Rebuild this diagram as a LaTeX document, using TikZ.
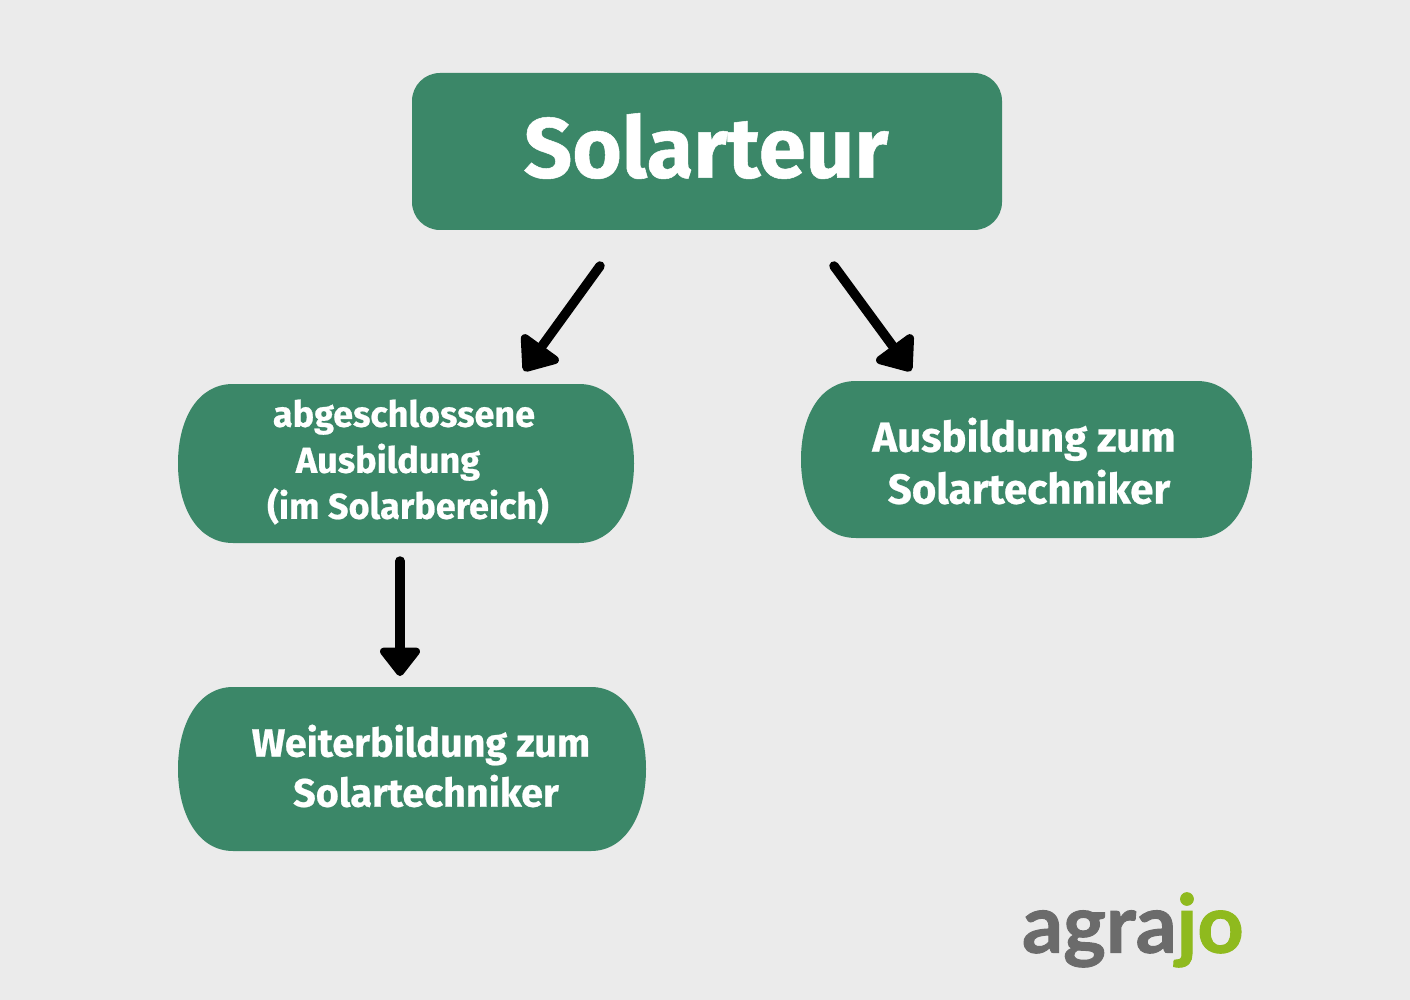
\documentclass[tikz,border=0pt]{standalone}
\usepackage{fontspec}
\setmainfont{Fira Sans}[BoldFeatures={FakeBold=0.6}]
\newfontfamily\logofont{Lato}[BoldFeatures={FakeBold=1.2}]
\usetikzlibrary{arrows.meta}
\definecolor{bggray}{HTML}{EBEBEB}
\definecolor{boxgreen}{HTML}{3B8768}
\definecolor{logogray}{HTML}{6B6B6B}
\definecolor{logogreen}{HTML}{8FBA1E}
\newcommand{\pillbox}[4]{% left, top, right, bottom
  \fill[boxgreen] (#1+55,#2) -- (#3-55,#2)
    .. controls (#3-20,#2) and (#3,#2/2+#4/2-45) .. (#3,#2/2+#4/2)
    .. controls (#3,#2/2+#4/2+45) and (#3-20,#4) .. (#3-55,#4)
    -- (#1+55,#4)
    .. controls (#1+20,#4) and (#1,#2/2+#4/2+45) .. (#1,#2/2+#4/2)
    .. controls (#1,#2/2+#4/2-45) and (#1+20,#2) .. (#1+55,#2) -- cycle;}
\tikzset{
  x=1pt,y=-1pt,
  boxtext/.style={text=white,font=\bfseries,align=center,inner sep=0pt},
  arrow/.style={line width=9.5pt,line cap=round,-{Triangle[length=31pt,width=46pt,line width=8pt,round]}},
  bigarrow/.style={line width=9.5pt,line cap=round,-{Triangle[length=34pt,width=52pt,line width=9pt,round]}}
}
\begin{document}
\begin{tikzpicture}
  \useasboundingbox[fill=bggray] (0,0) rectangle (1410,1000);
  % boxes
  \fill[boxgreen,rounded corners=28pt] (412,73) rectangle (1002,230);
  \node[boxtext,font=\fontsize{85}{90}\selectfont\bfseries] (solar) at (706,146) {Solarteur};
  \pillbox{178}{384}{634}{543}
  \node[boxtext,font=\fontsize{36}{46}\selectfont\bfseries] (abschluss) at (408,462) {\hspace*{-8pt}abgeschlossene\\\hspace*{-40pt}Ausbildung\\(im Solarbereich)};
  \pillbox{801}{381}{1252}{538}
  \node[boxtext,font=\fontsize{42}{52}\selectfont\bfseries] (ausbildung) at (1024,461) {Ausbildung zum\\\hspace*{10pt}Solartechniker};
  \pillbox{178}{687}{646}{851}
  \node[boxtext,font=\fontsize{39.5}{50}\selectfont\bfseries] (weiter) at (421,766) {Weiterbildung zum\\\hspace*{10pt}Solartechniker};
  % arrows
  \coordinate (a1) at (600,266);
  \coordinate (a2) at (524,371);
  \coordinate (b1) at (834,266);
  \coordinate (b2) at (911,371);
  \coordinate (c1) at (400,561);
  \coordinate (c2) at (400,676);
  \foreach \from/\to in {a1/a2,b1/b2}
  \draw[bigarrow] (\from) -- (\to);
  \draw[arrow] (c1) -- (c2);
  % logo
  \node[inner sep=0pt,anchor=east] (logo) at (1244,930) {\fontsize{81}{90}\selectfont\logofont\bfseries\textcolor{logogray}{agra}\textcolor{logogreen}{jo}};
\end{tikzpicture}
\end{document}
